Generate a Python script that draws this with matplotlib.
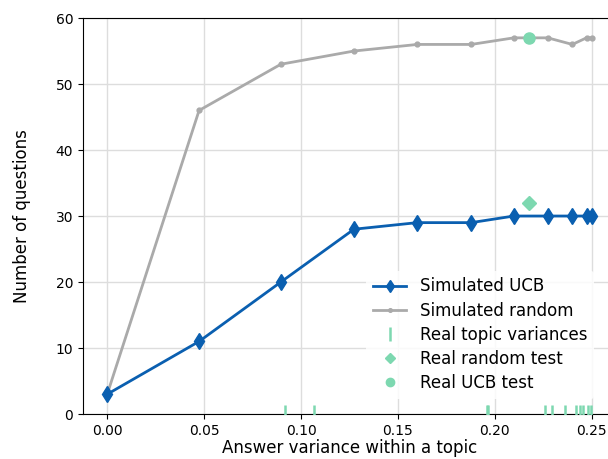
import matplotlib
matplotlib.use("Agg")
import matplotlib.pyplot as plt

# Simulated curves
variance = [0.0, 0.0474, 0.0896, 0.1273, 0.160, 0.1878, 0.2098, 0.2273, 0.2400, 0.2473, 0.2500]
ucb_questions = [3, 11, 20, 28, 29, 29, 30, 30, 30, 30, 30]
random_questions = [3, 46, 53, 55, 56, 56, 57, 57, 56, 57, 57]

# Real data
topic_variances = [0.0917, 0.1066, 0.1957, 0.1964, 0.2257, 0.2295, 0.2361,
                   0.2419, 0.2440, 0.2457, 0.2483, 0.2496]
real_test_variance = 0.2174
real_random_test = 32
real_ucb_test = 57

blue = '#0a5fb0'
gray = '#aaaaaa'
green = '#7dd8b0'

fig = plt.figure(figsize=(6.08, 4.59), dpi=100)
ax = fig.add_axes([0.1365, 0.098, 0.8766, 0.8627])

ax.plot(variance, ucb_questions, color=blue, marker='d', markersize=8, linewidth=2,
        label='Simulated UCB', zorder=4)
ax.plot(variance, random_questions, color=gray, marker='.', markersize=7, linewidth=2,
        label='Simulated random', zorder=3)
ax.plot(topic_variances, [0] * len(topic_variances), linestyle='none', marker='|',
        markersize=13, markeredgewidth=1.8, color=green, label='Real topic variances', zorder=5)
ax.plot([real_test_variance], [real_random_test], linestyle='none', marker='D', markersize=7,
        color=green, label='Real random test', zorder=5)
ax.plot([real_test_variance], [real_ucb_test], linestyle='none', marker='o', markersize=8,
        color=green, label='Real UCB test', zorder=5)

ax.set_xlim(-0.0125, 0.2625)
ax.set_ylim(0, 60)
ax.set_xticks([0.0, 0.05, 0.10, 0.15, 0.20, 0.25])
ax.set_xticklabels(['0.00', '0.05', '0.10', '0.15', '0.20', '0.25'])
ax.set_yticks(range(0, 61, 10))
ax.tick_params(labelsize=10)
ax.grid(True, color='#dddddd', linewidth=1)
ax.set_axisbelow(True)
ax.spines['right'].set_visible(False)

ax.set_xlabel('Answer variance within a topic', fontsize=12, labelpad=1)
ax.set_ylabel('Number of questions', fontsize=12, labelpad=18)

leg = ax.legend(loc='lower right', bbox_to_anchor=(0.968, 0.026), fontsize=12,
                frameon=True, framealpha=0.85, edgecolor='none', facecolor='white',
                borderaxespad=0.3, handlelength=2.0, labelspacing=0.37, markerscale=0.75)

fig.savefig('out.png', dpi=100)
